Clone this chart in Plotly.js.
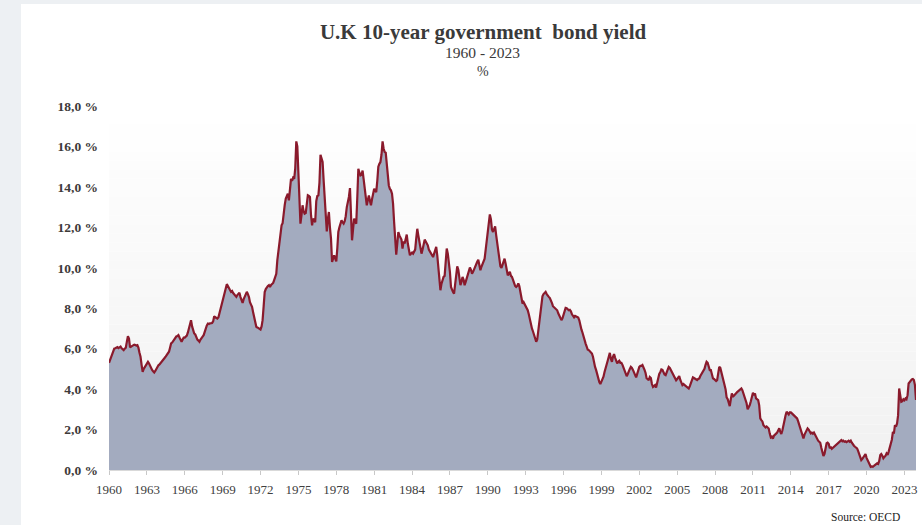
<!DOCTYPE html>
<html>
<head>
<meta charset="utf-8">
<script src="https://cdn.plot.ly/plotly-3.0.1.min.js"></script>
<style>
  html, body { margin: 0; padding: 0; background: #edf0f3; width: 922px; height: 525px; overflow: hidden; }
  #chart { position: absolute; left: 21px; top: 4px; width: 901px; height: 521px; background: #ffffff; }
</style>
</head>
<body>
<div id="chart"></div>
<script>
// ---- Data (monthly, % yield) ----
const startYear = 1960;

const yields1960s = [
  5.30, 5.45, 5.55, 5.75, 5.93, 6.00, 6.02, 6.05, 6.08, 6.03, 6.06, 6.10,
  6.02, 5.95, 5.93, 6.00, 6.05, 6.35, 6.62, 6.50, 6.06, 6.10, 6.15, 6.18,
  6.20, 6.18, 6.15, 6.17, 6.05, 5.80, 5.60, 5.20, 4.85, 5.00, 5.10, 5.15,
  5.25, 5.35, 5.28, 5.15, 5.05, 4.95, 4.88, 4.82, 4.90, 5.00, 5.10, 5.18,
  5.22, 5.30, 5.38, 5.43, 5.48, 5.55, 5.62, 5.70, 5.73, 5.85, 6.05, 6.26,
  6.30, 6.38, 6.45, 6.55, 6.60, 6.62, 6.67, 6.55, 6.40, 6.34, 6.45, 6.55,
  6.55, 6.62, 6.65, 6.80, 7.05, 7.30, 7.41, 7.10, 6.83, 6.75, 6.70, 6.55,
  6.45, 6.40, 6.34, 6.45, 6.55, 6.60, 6.67, 6.85, 7.05, 7.15, 7.24, 7.22,
  7.25, 7.27, 7.27, 7.35, 7.60, 7.55, 7.50, 7.49, 7.55, 7.75, 7.95, 8.20,
  8.45, 8.60, 8.85, 9.05, 9.19, 9.10, 8.95, 8.90, 8.81, 8.85, 8.75, 8.70
];
const yields1970s = [
  8.62, 8.56, 8.65, 8.72, 8.76, 8.55, 8.40, 8.26, 8.45, 8.60, 8.75, 8.81,
  8.70, 8.55, 8.30, 8.15, 8.07, 7.80, 7.55, 7.40, 7.08, 7.05, 7.00, 6.98,
  6.95, 7.10, 7.41, 8.10, 8.80, 8.95, 9.05, 9.10, 9.14, 9.05, 9.15, 9.20,
  9.25, 9.40, 9.55, 9.70, 10.37, 10.80, 11.27, 11.80, 12.10, 12.20, 12.80, 13.10,
  13.42, 13.55, 13.66, 13.33, 13.80, 14.40, 14.30, 14.45, 14.40, 14.90, 16.25, 16.00,
  14.70, 12.90, 12.18, 12.60, 13.09, 12.80, 12.67, 12.70, 13.10, 13.58, 13.55, 13.50,
  12.60, 12.10, 12.43, 12.35, 12.26, 13.30, 13.55, 13.58, 14.20, 15.59, 15.40, 15.23,
  14.30, 13.25, 12.40, 11.80, 12.40, 12.76, 12.00, 11.44, 10.29, 10.50, 10.62, 10.45,
  10.32, 11.00, 11.77, 12.00, 12.20, 12.35, 12.25, 12.18, 12.30, 12.55, 13.00, 13.20,
  13.50, 13.94, 12.59, 11.36, 11.90, 12.43, 12.30, 12.18, 13.50, 14.90, 14.70, 14.57
];
const yields1980s = [
  14.60, 14.81, 14.40, 13.90, 13.40, 13.09, 13.35, 13.58, 13.30, 13.09, 13.40, 13.70,
  13.91, 13.80, 13.74, 14.30, 15.00, 15.14, 15.23, 15.60, 16.25, 15.90, 15.72, 15.69,
  15.20, 14.40, 14.07, 13.90, 13.83, 13.66, 13.17, 12.26, 11.10, 10.65, 11.20, 11.77,
  11.60, 11.50, 11.40, 10.95, 11.30, 11.20, 11.44, 11.64, 11.20, 10.85, 10.62, 10.70,
  10.75, 10.70, 10.78, 10.90, 11.44, 11.93, 11.60, 11.27, 10.95, 10.70, 10.90, 11.10,
  11.39, 11.30, 11.20, 11.11, 10.90, 10.80, 10.75, 10.60, 10.53, 10.70, 10.85, 11.03,
  10.60, 9.90, 9.20, 8.89, 9.20, 9.40, 9.55, 9.60, 10.20, 10.95, 10.70, 10.30,
  9.80, 9.05, 8.90, 8.80, 8.72, 9.10, 9.50, 10.07, 9.90, 9.60, 9.14, 9.30,
  9.55, 9.40, 9.14, 9.30, 9.50, 9.70, 9.85, 10.01, 9.90, 9.71, 9.80, 9.95,
  10.04, 10.15, 10.30, 10.40, 10.15, 9.88, 10.05, 10.20, 10.35, 10.45, 10.90, 11.36
];
const yields1990s = [
  11.80, 12.30, 12.64, 12.40, 11.90, 11.77, 11.90, 12.05, 11.60, 11.19, 10.80, 10.40,
  10.07, 10.00, 10.15, 10.30, 10.45, 10.20, 9.90, 9.63, 9.70, 9.80, 9.60, 9.55,
  9.40, 9.20, 9.10, 9.05, 9.10, 9.22, 9.10, 8.80, 8.40, 8.23, 8.30, 8.20,
  8.05, 7.98, 7.90, 7.70, 7.40, 7.20, 7.00, 6.85, 6.70, 6.55, 6.34, 6.45,
  6.90, 7.41, 7.90, 8.30, 8.59, 8.70, 8.75, 8.81, 8.70, 8.60, 8.56, 8.50,
  8.40, 8.25, 8.10, 8.05, 8.00, 7.98, 7.90, 7.75, 7.60, 7.45, 7.41, 7.50,
  7.70, 7.90, 8.02, 8.00, 7.95, 7.90, 7.92, 7.85, 7.70, 7.60, 7.55, 7.62,
  7.58, 7.55, 7.54, 7.40, 7.10, 6.95, 6.80, 6.58, 6.40, 6.25, 6.10, 5.95,
  5.93, 5.88, 5.85, 5.76, 5.60, 5.30, 5.10, 4.94, 4.70, 4.50, 4.35, 4.25,
  4.35, 4.45, 4.61, 4.85, 5.00, 5.19, 5.40, 5.60, 5.79, 5.50, 5.35, 5.60
];
const yields2000s = [
  5.73, 5.55, 5.40, 5.27, 5.35, 5.40, 5.30, 5.30, 5.20, 5.05, 4.90, 4.75,
  4.64, 4.75, 4.90, 5.00, 5.10, 5.05, 4.95, 4.80, 4.70, 4.58, 4.75, 4.95,
  5.10, 5.15, 5.15, 5.19, 5.10, 4.95, 4.80, 4.53, 4.50, 4.44, 4.60, 4.55,
  4.25, 4.11, 4.15, 4.20, 4.08, 4.30, 4.58, 4.75, 4.85, 4.97, 4.95, 4.80,
  4.72, 4.69, 4.80, 4.95, 5.10, 5.05, 4.95, 4.85, 4.81, 4.65, 4.55, 4.44,
  4.50, 4.55, 4.64, 4.45, 4.28, 4.20, 4.25, 4.20, 4.18, 4.15, 4.10, 4.03,
  4.15, 4.30, 4.45, 4.58, 4.55, 4.50, 4.48, 4.45, 4.50, 4.53, 4.65, 4.74,
  4.80, 4.86, 5.00, 5.20, 5.35, 5.30, 5.10, 4.94, 4.94, 4.70, 4.53, 4.50,
  4.45, 4.40, 4.44, 4.70, 5.10, 5.05, 4.80, 4.53, 4.44, 4.20, 3.98, 3.59,
  3.50, 3.25, 3.16, 3.50, 3.79, 3.62, 3.70, 3.75, 3.80, 3.85, 3.90, 3.98
];
const yields2010s = [
  4.00, 4.03, 3.95, 3.80, 3.62, 3.50, 3.30, 3.00, 3.10, 3.21, 3.40, 3.62,
  3.82, 3.70, 3.79, 3.54, 3.50, 3.46, 3.20, 2.55, 2.47, 2.40, 2.22, 2.15,
  2.10, 2.15, 2.10, 2.05, 1.80, 1.61, 1.65, 1.55, 1.70, 1.73, 1.80, 1.85,
  1.95, 2.06, 1.90, 1.78, 1.95, 2.25, 2.60, 2.70, 2.88, 2.80, 2.75, 2.85,
  2.85, 2.80, 2.72, 2.70, 2.65, 2.60, 2.55, 2.40, 2.22, 2.11, 1.95, 1.65,
  1.56, 1.75, 1.85, 1.95, 2.06, 2.00, 1.90, 1.81, 1.85, 1.80, 1.85, 1.75,
  1.65, 1.48, 1.45, 1.40, 1.35, 1.10, 0.85, 0.69, 0.80, 1.05, 1.32, 1.35,
  1.30, 1.07, 1.15, 1.05, 1.10, 1.15, 1.20, 1.23, 1.30, 1.35, 1.40, 1.48,
  1.48, 1.42, 1.45, 1.40, 1.42, 1.38, 1.42, 1.45, 1.40, 1.45, 1.35, 1.23,
  1.20, 1.15, 1.10, 1.07, 0.95, 0.80, 0.70, 0.49, 0.55, 0.65, 0.74, 0.79
];
const yields2020s = [
  0.60, 0.50, 0.35, 0.25, 0.16, 0.18, 0.16, 0.20, 0.25, 0.30, 0.33, 0.30,
  0.45, 0.74, 0.79, 0.70, 0.58, 0.65, 0.70, 0.82, 0.75, 0.91, 1.10, 1.40,
  1.50, 1.89, 1.80, 2.22, 2.15, 2.30, 2.70, 4.03, 3.60, 3.37, 3.40, 3.50,
  3.45, 3.54, 3.50, 3.70, 4.28, 4.36, 4.40, 4.48, 4.50, 4.45, 4.20, 3.46
];

const xTickYears = [1960, 1963, 1966, 1969, 1972, 1975, 1978, 1981, 1984, 1987, 1990,
                    1993, 1996, 1999, 2002, 2005, 2008, 2011, 2014, 2017, 2020, 2023];
const yTickValues = [0, 2, 4, 6, 8, 10, 12, 14, 16, 18];
const yTickLabels = ["0,0 %", "2,0 %", "4,0 %", "6,0 %", "8,0 %", "10,0 %",
                     "12,0 %", "14,0 %", "16,0 %", "18,0 %"];

// ---- Build series ----
const yields = [].concat(yields1960s, yields1970s, yields1980s, yields1990s,
                         yields2000s, yields2010s, yields2020s);
const pad = n => (n < 10 ? "0" + n : "" + n);
const dates = yields.map((v, i) => (startYear + Math.floor(i / 12)) + "-" + pad(i % 12 + 1) + "-01");

const trace = {
  x: dates,
  y: yields,
  type: "scatter",
  mode: "lines",
  fill: "tozeroy",
  fillcolor: "#a3abbf",
  line: { color: "#8a1a2c", width: 2.2 },
  hoverinfo: "skip"
};

// soft vertical gradient for the plot background
const bands = [];
const nb = 40;
for (let i = 0; i < nb; i++) {
  const t = i / (nb - 1);            // 0 bottom -> 1 top
  const c = Math.round(241 + (255 - 241) * t);
  bands.push({
    type: "rect", xref: "paper", yref: "paper", layer: "below",
    x0: 0, x1: 1, y0: i / nb, y1: (i + 1) / nb,
    fillcolor: "rgb(" + c + "," + c + "," + c + ")", line: { width: 0 }
  });
}

const serif = "Liberation Serif, Times New Roman, serif";

const layout = {
  width: 901,
  height: 521,
  margin: { l: 88, r: 6, t: 102, b: 55 },
  paper_bgcolor: "#ffffff",
  plot_bgcolor: "#ffffff",
  showlegend: false,
  title: {
    text: "<b>U.K 10-year government\u00a0 bond yield</b>",
    font: { family: serif, size: 21, color: "#3a3a3a" },
    xref: "container", x: 0.5128, xanchor: "center",
    yref: "container", y: 0.947, yanchor: "middle"
  },
  xaxis: {
    type: "date",
    range: [dates[0], dates[dates.length - 1]],
    tickmode: "array",
    tickvals: xTickYears.map(y => y + "-01-01"),
    ticktext: xTickYears.map(String),
    ticks: "outside",
    ticklen: 4,
    tickcolor: "#c8c8c8",
    tickwidth: 1,
    showline: true,
    linecolor: "#d9d9d9",
    linewidth: 1,
    showgrid: false,
    zeroline: false,
    ticklabelstandoff: 3,
    tickfont: { family: serif, size: 13, color: "#404040" }
  },
  yaxis: {
    range: [0, 18],
    tickmode: "array",
    tickvals: yTickValues,
    ticktext: yTickLabels,
    ticks: "",
    showline: false,
    showgrid: false,
    zeroline: false,
    ticklabelstandoff: 10,
    tickfont: { family: serif, size: 13.5, color: "#3e3a3a", weight: "bold" }
  },
  shapes: bands,
  annotations: [
    { text: "1960 - 2023", xref: "paper", yref: "paper", x: 0.4634, y: 1.1464,
      xanchor: "center", yanchor: "middle", showarrow: false,
      font: { family: serif, size: 15.5, color: "#3a3a3a" } },
    { text: "%", xref: "paper", yref: "paper", x: 0.4634, y: 1.0942,
      xanchor: "center", yanchor: "middle", showarrow: false,
      font: { family: serif, size: 14, color: "#3a3a3a" } },
    { text: "Source: OECD", xref: "paper", yref: "paper", x: 0.9827, y: -0.1283,
      xanchor: "right", yanchor: "middle", showarrow: false,
      font: { family: serif, size: 11.5, color: "#222222" } }
  ]
};

Plotly.newPlot("chart", [trace], layout, { displayModeBar: false, staticPlot: true });
</script>
</body>
</html>
